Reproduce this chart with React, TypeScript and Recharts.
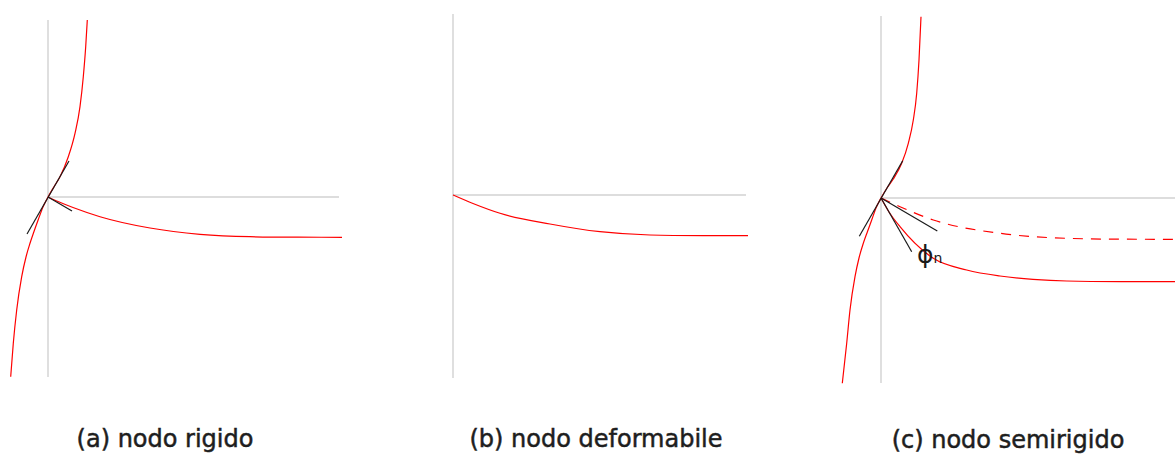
import { ComposedChart, Line, ReferenceLine, XAxis, YAxis } from "recharts";

// (a) nodo rigido
const rigidA = [
  { x: -37.3, y: -179.7 }, { x: -34.7, y: -146.3 }, { x: -31.3, y: -113 }, { x: -26.3, y: -79.7 },
  { x: -22, y: -60 }, { x: -18, y: -46.3 }, { x: -14, y: -34.5 }, { x: -9.7, y: -22.5 }, { x: -5, y: -10 },
  { x: 0, y: 0 }, { x: 6, y: 10.3 }, { x: 12, y: 20.3 }, { x: 20.3, y: 40.3 },
  { x: 27, y: 63.7 }, { x: 32, y: 90.3 }, { x: 35.3, y: 120.3 }, { x: 37.7, y: 150.3 }, { x: 39.3, y: 177 },
];
const decayA = [
  { x: 0, y: 0 }, { x: 10, y: -4.5 }, { x: 25, y: -10.5 }, { x: 52, y: -19.7 }, { x: 102, y: -31 },
  { x: 152, y: -37.3 }, { x: 202, y: -39.7 }, { x: 250, y: -40.2 }, { x: 294, y: -40.3 },
];
const tangentA = [{ x: -21, y: -37 }, { x: 21, y: 36 }];
const slopeA = [{ x: 0, y: 0 }, { x: 24, y: -14 }];

// (b) nodo deformabile
const decayB = [
  { x: 0, y: 0 }, { x: 20, y: -8.5 }, { x: 47, y: -18.3 }, { x: 97, y: -29 }, { x: 147, y: -36.7 },
  { x: 197, y: -40 }, { x: 250, y: -40.6 }, { x: 295, y: -40.7 },
];

// (c) nodo semirigido
const rigidC = [
  { x: -38.7, y: -185.3 }, { x: -34.3, y: -145.3 }, { x: -31, y: -112 }, { x: -26, y: -78.7 },
  { x: -22, y: -60 }, { x: -17.7, y: -45.3 }, { x: -13.5, y: -33.5 }, { x: -9.3, y: -22 }, { x: -5, y: -10 },
  { x: 0, y: 0 }, { x: 6, y: 10 }, { x: 12.3, y: 19 }, { x: 20.7, y: 34.7 },
  { x: 27.3, y: 54.7 }, { x: 32.3, y: 78 }, { x: 35.7, y: 104.7 }, { x: 38, y: 138 }, { x: 40, y: 181.3 },
];
const dashedC = [
  { x: 0, y: 0 }, { x: 19, y: -8.7 }, { x: 52.3, y: -22 }, { x: 119, y: -35.3 },
  { x: 185.7, y: -40.3 }, { x: 240, y: -41.2 }, { x: 294, y: -41.3 },
];
const decayC = [
  { x: 0, y: 0 }, { x: 8, y: -14 }, { x: 19, y: -28.7 }, { x: 52.3, y: -60.3 }, { x: 85.7, y: -72 },
  { x: 119, y: -78 }, { x: 152, y: -81.3 }, { x: 185.7, y: -83 }, { x: 240, y: -83.6 }, { x: 294, y: -83.7 },
];
const tangentC = [{ x: -21.7, y: -38.3 }, { x: 21.7, y: 37.3 }];
const slopeC1 = [{ x: 0, y: 0 }, { x: 56.3, y: -33 }];
const slopeC2 = [{ x: 0, y: 0 }, { x: 30.7, y: -53.7 }];

const captions = ["(a) nodo rigido", "(b) nodo deformabile", "(c) nodo semirigido"];
const captionX = [165, 596, 1008];

const RED = "#ff0000";
const INK = "#1a1a1a";
const W = 345;
const H = 380;

interface Curve {
  data: { x: number; y: number }[];
  color: string;
  dash?: string;
  smooth?: boolean;
}

interface PanelProps {
  left: number;
  originY: number;
  vAxis: [number, number];
  hAxis: number;
  curves: Curve[];
}

function Panel({ left, originY, vAxis, hAxis, curves }: PanelProps) {
  return (
    <div style={{ position: "absolute", left, top: 10 }}>
      <ComposedChart width={W} height={H} margin={{ top: 0, right: 0, bottom: 0, left: 0 }}>
        <XAxis type="number" dataKey="x" domain={[-45, 300]} hide allowDataOverflow />
        <YAxis type="number" dataKey="y" domain={[originY - 390, originY - 10]} hide allowDataOverflow />
        <ReferenceLine
          segment={[{ x: 0, y: vAxis[0] }, { x: 0, y: vAxis[1] }]}
          stroke="#d4d4d4"
          strokeWidth={1.5}
        />
        <ReferenceLine
          segment={[{ x: 0, y: 0 }, { x: hAxis, y: 0 }]}
          stroke="#bcbcbc"
          strokeWidth={1.2}
        />
        {curves.map((c, i) => (
          <Line
            key={i}
            data={c.data}
            dataKey="y"
            type={c.smooth === false ? "linear" : "monotone"}
            stroke={c.color}
            strokeWidth={1.2}
            strokeDasharray={c.dash}
            dot={false}
            activeDot={false}
            isAnimationActive={false}
          />
        ))}
      </ComposedChart>
    </div>
  );
}

export default function App() {
  return (
    <div
      style={{
        position: "absolute",
        left: 0,
        top: 0,
        width: 1175,
        height: 456,
        overflow: "hidden",
        background: "#fff",
      }}
    >
      <Panel
        left={3}
        originY={197}
        vAxis={[-180, 177]}
        hAxis={291}
        curves={[
          { data: rigidA, color: RED },
          { data: decayA, color: RED },
          { data: tangentA, color: INK, smooth: false },
          { data: slopeA, color: INK, smooth: false },
        ]}
      />
      <Panel
        left={408}
        originY={195}
        vAxis={[-183, 181]}
        hAxis={293}
        curves={[{ data: decayB, color: RED }]}
      />
      <Panel
        left={836}
        originY={198}
        vAxis={[-185, 182]}
        hAxis={294}
        curves={[
          { data: rigidC, color: RED },
          { data: dashedC, color: RED, dash: "10 8" },
          { data: decayC, color: RED },
          { data: tangentC, color: INK, smooth: false },
          { data: slopeC1, color: INK, smooth: false },
          { data: slopeC2, color: INK, smooth: false },
        ]}
      />
      <svg width={1175} height={456} style={{ position: "absolute", left: 0, top: 0, pointerEvents: "none" }}>
        <text x={917} y={263} fontFamily="DejaVu Sans" fontSize={25} fill={INK}>
          ϕ<tspan fontSize={14}>n</tspan>
        </text>
        {captions.map((t, i) => (
          <text
            key={t}
            x={captionX[i]}
            y={[447, 447, 448][i]}
            textAnchor="middle"
            fontFamily="DejaVu Sans"
            fontSize={24}
            fill="#1e1e1e"
            stroke="#1e1e1e"
            strokeWidth={0.5}
          >
            {t}
          </text>
        ))}
      </svg>
    </div>
  );
}
